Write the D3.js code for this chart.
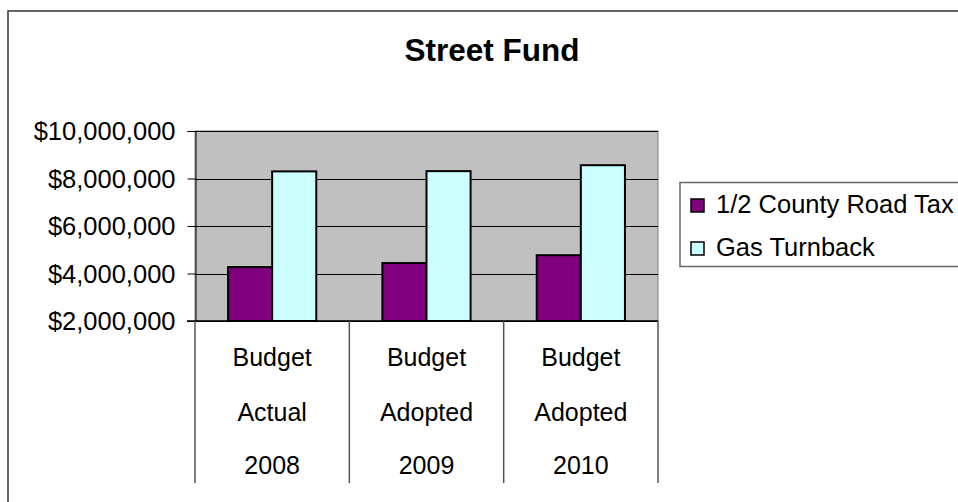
<!DOCTYPE html>
<html>
<head>
<meta charset="utf-8">
<script src="https://cdn.jsdelivr.net/npm/d3@7"></script>
<style>
  html, body { margin: 0; padding: 0; background: #ffffff; }
  svg { display: block; font-family: Arial, "Liberation Sans", sans-serif; }
</style>
</head>
<body>
<svg id="chart" width="958" height="502"></svg>
<script>
const title = "Street Fund";
const categories = [
  ["Budget", "Actual", "2008"],
  ["Budget", "Adopted", "2009"],
  ["Budget", "Adopted", "2010"]
];
const seriesNames = ["1/2 County Road Tax", "Gas Turnback"];
const seriesColors = ["#800080", "#CCFFFF"];
const roadTax = [4270000, 4440000, 4770000];
const gasTurnback = [8300000, 8310000, 8560000];
const yTicks = [2000000, 4000000, 6000000, 8000000, 10000000];

const svg = d3.select("#chart");
const plot = { left: 195, right: 658, top: 131, bottom: 321 };
const FONT = "Arial, 'Liberation Sans', sans-serif";

// outer chart border (extends past the window on right & bottom)
svg.append("rect").attr("x", 8).attr("y", 11).attr("width", 1000).attr("height", 600)
  .attr("fill", "#ffffff").attr("stroke", "#333").attr("stroke-width", 1.5);

// title
svg.append("text").attr("x", 492).attr("y", 61).attr("text-anchor", "middle")
  .attr("font-size", 31.5).attr("font-weight", "bold").attr("fill", "#000").text(title);

const x0 = d3.scaleBand().domain(d3.range(categories.length))
  .range([plot.left, plot.right]).paddingInner(0).paddingOuter(0);
const x1 = d3.scaleBand().domain([0, 1]).range([0, x0.bandwidth()]).paddingOuter(0.75).paddingInner(0);
const y = d3.scaleLinear().domain([2000000, 10000000]).range([plot.bottom, plot.top]);

// plot area background
svg.append("rect").attr("x", plot.left).attr("y", plot.top)
  .attr("width", plot.right - plot.left).attr("height", plot.bottom - plot.top)
  .attr("fill", "#C0C0C0").attr("stroke", "#808080").attr("stroke-width", 1);

// gridlines
svg.append("g").selectAll("line").data(yTicks).join("line")
  .attr("x1", plot.left).attr("x2", plot.right)
  .attr("y1", d => Math.round(y(d)) + 0.5).attr("y2", d => Math.round(y(d)) + 0.5)
  .attr("stroke", "#000").attr("stroke-width", 1);

// y axis
const yAxis = d3.axisLeft(y).tickValues(yTicks).tickSize(8).tickPadding(12)
  .tickFormat(d => "$" + d3.format(",")(d));
const gy = svg.append("g").attr("transform", `translate(${plot.left + 0.5},0)`).call(yAxis);
gy.attr("font-family", FONT);
gy.select(".domain").attr("stroke", "#000").attr("stroke-width", 1);
gy.selectAll(".tick line").attr("stroke", "#000");
gy.selectAll(".tick text").attr("font-size", 25.5).attr("fill", "#000")
  .attr("font-family", FONT).attr("dy", "0.35em");

// bars
const series = [roadTax, gasTurnback];
const groups = svg.append("g").selectAll("g").data(categories.map((c, i) => i)).join("g")
  .attr("transform", i => `translate(${x0(i)},0)`);
groups.selectAll("rect").data(i => series.map((s, k) => ({ k, v: s[i] }))).join("rect")
  .attr("x", d => x1(d.k)).attr("width", x1.bandwidth())
  .attr("y", d => y(d.v)).attr("height", d => y(2000000) - y(d.v))
  .attr("fill", d => seriesColors[d.k]).attr("stroke", "#000").attr("stroke-width", 2);

// x axis line
svg.append("line").attr("x1", plot.left - 8).attr("x2", plot.right)
  .attr("y1", plot.bottom).attr("y2", plot.bottom).attr("stroke", "#000").attr("stroke-width", 1.5);

// category dividers
const dividers = d3.range(categories.length + 1).map(i => i < categories.length ? x0(i) : plot.right);
svg.append("g").selectAll("line").data(dividers).join("line")
  .attr("x1", d => d).attr("x2", d => d).attr("y1", plot.bottom).attr("y2", 483)
  .attr("stroke", "#555").attr("stroke-width", 1.5);

// category labels (multi-line)
const lineY = [366, 421, 474];
const cl = svg.append("g").selectAll("g").data(categories).join("g");
cl.each(function (c, i) {
  d3.select(this).selectAll("text").data(c).join("text")
    .attr("x", x0(i) + x0.bandwidth() / 2).attr("y", (d, j) => lineY[j])
    .attr("text-anchor", "middle").attr("font-size", 25).attr("fill", "#000").text(d => d);
});

// legend
svg.append("rect").attr("x", 680).attr("y", 182.5).attr("width", 400).attr("height", 84)
  .attr("fill", "#fff").attr("stroke", "#666").attr("stroke-width", 1.5);
const leg = svg.append("g").selectAll("g").data(seriesNames).join("g")
  .attr("transform", (d, i) => `translate(691,${199 + i * 43})`);
leg.append("rect").attr("width", 13).attr("height", 13)
  .attr("fill", (d, i) => seriesColors[i]).attr("stroke", "#000").attr("stroke-width", 1.5);
leg.append("text").attr("x", 25).attr("y", 14).attr("font-size", 25.5).attr("fill", "#000").text(d => d);
</script>
</body>
</html>
